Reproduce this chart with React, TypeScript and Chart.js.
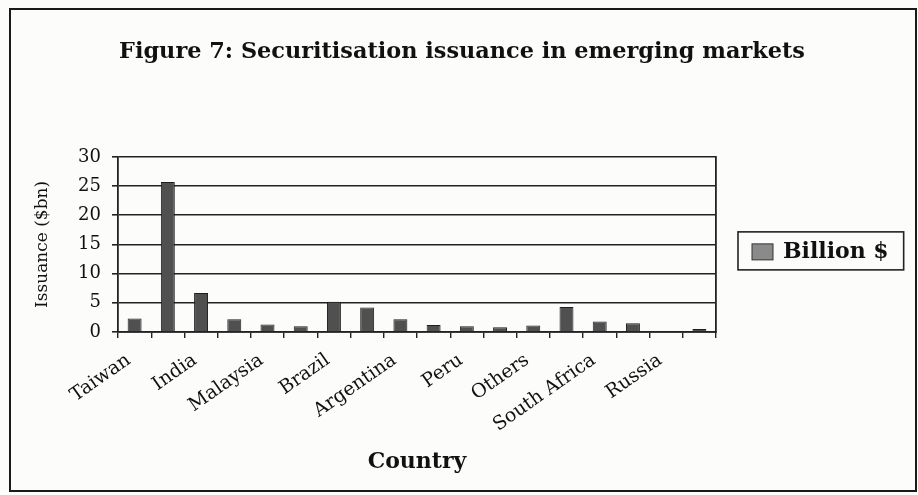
import React, { useEffect, useRef } from "react";
import { Chart, registerables } from "chart.js";

Chart.register(...registerables);

const categories: string[] = [
  "Taiwan", "", "India", "", "Malaysia", "", "Brazil", "", "Argentina", "",
  "Peru", "", "Others", "", "South Africa", "", "Russia", "",
];
const issuance: number[] = [
  2.3, 25.7, 6.7, 2.2, 1.3, 1.0, 5.2, 4.2, 2.2, 1.2,
  1.0, 0.8, 1.1, 4.3, 1.8, 1.5, 0, 0.5,
];
const seriesLabel = "Billion $";
const yTicks: number[] = [0, 5, 10, 15, 20, 25, 30];
const titleText = "Figure 7: Securitisation issuance in emerging markets";
const xTitle = "Country";
const yTitle = "Issuance ($bn)";

const SERIF = "'DejaVu Serif', serif";

// Legend drawn next to the plot, with a frame, like the original figure.
const boxedLegend = {
  id: "boxedLegend",
  afterDraw(chart: any) {
    const ds = chart.data.datasets[0];
    const area = chart.chartArea;
    const ctx = chart.ctx;
    ctx.save();
    ctx.font = `bold 22px ${SERIF}`;
    const textW = ctx.measureText(ds.label).width;
    const left = area.right + 22;
    const top = area.top + 75;
    const h = 38;
    const w = 14 + 21 + 10 + textW + 15;
    ctx.strokeStyle = "#222";
    ctx.lineWidth = 1.6;
    ctx.strokeRect(left, top, w, h);
    ctx.fillStyle = "#8a8a8a";
    ctx.fillRect(left + 14, top + 12, 21, 16);
    ctx.strokeStyle = "#333";
    ctx.lineWidth = 1;
    ctx.strokeRect(left + 14, top + 12, 21, 16);
    ctx.fillStyle = "#111";
    ctx.textBaseline = "middle";
    ctx.textAlign = "left";
    ctx.fillText(ds.label, left + 45, top + h / 2 + 1);
    ctx.restore();
  },
};

export default function App() {
  const ref = useRef<HTMLCanvasElement | null>(null);
  useEffect(() => {
    document.body.style.margin = "0";
    document.body.style.background = "#fcfcfb";
    if (!ref.current) return;
    const chart = new Chart(ref.current, {
      type: "bar",
      data: {
        labels: categories,
        datasets: [
          {
            label: seriesLabel,
            data: issuance,
            backgroundColor: "#505050",
            borderColor: "#1e1e1e",
            borderWidth: 1,
            barPercentage: 0.42,
            categoryPercentage: 1,
          },
        ],
      },
      options: {
        animation: false,
        responsive: false,
        maintainAspectRatio: false,
        layout: { padding: { left: 30, right: 24, top: 0, bottom: 12 } },
        plugins: {
          title: {
            display: true,
            text: titleText,
            color: "#111",
            font: { family: SERIF, size: 22.4, weight: "bold" },
            padding: { top: 39, bottom: 91 },
          },
          legend: { display: false },
          tooltip: { enabled: false },
        },
        scales: {
          x: {
            offset: true,
            grid: {
              display: true,
              offset: true,
              drawOnChartArea: false,
              drawTicks: true,
              tickLength: 6,
              color: "#222",
              lineWidth: 1.4,
            },
            border: { display: true, color: "#222", width: 1.8 },
            ticks: {
              autoSkip: false,
              minRotation: 35,
              maxRotation: 35,
              labelOffset: -6,
              color: "#111",
              padding: 11,
              font: { family: SERIF, size: 19 },
            },
            title: {
              display: true,
              text: xTitle,
              color: "#111",
              font: { family: SERIF, size: 22, weight: "bold" },
              padding: { top: 8, bottom: 8 },
            },
            afterFit: (s: any) => {
              s.height = 495 - 12 - 332;
            },
          },
          y: {
            min: 0,
            max: 30,
            afterBuildTicks: (s: any) => {
              s.ticks = yTicks.map((v) => ({ value: v }));
            },
            grid: {
              color: "#222",
              lineWidth: 1.6,
              drawTicks: true,
              tickLength: 6,
            },
            border: { display: true, color: "#222", width: 1.8 },
            ticks: {
              color: "#111",
              padding: 11,
              font: { family: SERIF, size: 18 },
            },
            title: {
              display: true,
              text: yTitle,
              color: "#111",
              font: { family: SERIF, size: 17 },
              padding: { top: 2, bottom: 2 },
            },
            afterFit: (s: any) => {
              s.width = 118 - 30;
            },
          },
          y2: {
            position: "right",
            min: 0,
            max: 30,
            grid: { drawOnChartArea: false, drawTicks: false },
            border: { display: true, color: "#222", width: 1.8 },
            ticks: { display: false },
            afterFit: (s: any) => {
              s.width = 918 - 24 - 716;
            },
          },
        },
      },
      plugins: [boxedLegend],
    });
    return () => chart.destroy();
  }, []);

  return (
    <div style={{ position: "relative", width: 918, height: 495, background: "#fcfcfb" }}>
      <canvas ref={ref} width={918} height={495} style={{ position: "absolute", left: 0, top: 0 }} />
      <div
        style={{
          position: "absolute",
          left: 9,
          top: 8,
          width: 904,
          height: 480,
          border: "2px solid #1a1a1a",
          pointerEvents: "none",
        }}
      />
    </div>
  );
}
